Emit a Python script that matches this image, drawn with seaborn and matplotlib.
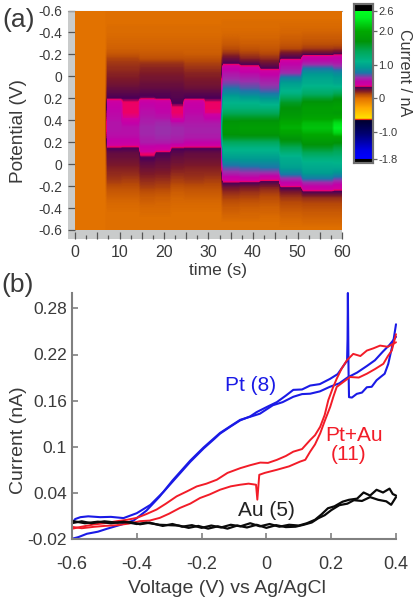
import numpy as np
import pandas as pd
import seaborn as sns
import matplotlib.pyplot as plt
from matplotlib.colors import LinearSegmentedColormap

# panel (a): current map, one list per time block, rows run down the potential axis
block_half_seconds = [14, 7, 8, 7, 7, 6, 9, 8, 8, 9, 9, 10, 14, 4]
block_0 = [0.0] * 44
block_1 = [.01, .01, .01, .02, .02, .03, .04, .05, .08, .13, .16, .18, .2, .22, .24, .27, .3, .33, .46, .5, .52, .53,
           .55, .55, .54, .52, .46, .34, .28, .26, .24, .21, .19, .17, .14, .1, .07, .05, .03, .02, .01, .01, .01, .01]
block_2 = [.01, .01, .01, .02, .02, .03, .04, .05, .08, .13, .16, .18, .2, .22, .24, .27, .3, .33, .365, .365, .365, .39,
           .5, .54, .54, .52, .46, .33, .28, .26, .24, .21, .19, .16, .13, .1, .07, .05, .03, .02, .01, .01, .01, .01]
block_3 = [.01, .01, .01, .02, .02, .03, .04, .05, .07, .1, .17, .2, .22, .24, .26, .28, .31, .34, .5, .52, .54, .56,
           .58, .6, .6, .58, .56, .48, .38, .33, .29, .26, .23, .2, .17, .14, .1, .07, .05, .03, .02, .01, .01, .01]
block_4 = [.01, .01, .01, .02, .02, .03, .04, .05, .07, .1, .17, .2, .22, .24, .26, .28, .31, .33, .47, .5, .52, .55,
           .6, .62, .62, .6, .56, .46, .33, .3, .27, .25, .22, .19, .16, .13, .09, .06, .04, .03, .02, .01, .01, .01]
block_5 = [.01, .01, .01, .02, .02, .03, .04, .05, .07, .1, .17, .2, .22, .24, .26, .28, .3, .31, .33, .365, .365, .39,
           .55, .6, .6, .58, .54, .34, .3, .27, .25, .22, .19, .16, .13, .09, .06, .04, .03, .02, .01, .01, .01, .01]
block_6 = [.01, .01, .01, .02, .02, .03, .04, .05, .06, .1, .14, .17, .2, .22, .24, .26, .3, .33, .47, .5, .52, .54,
           .56, .58, .58, .56, .5, .34, .28, .26, .24, .21, .19, .17, .14, .1, .07, .05, .03, .02, .01, .01, .01, .01]
block_7 = [.01, .01, .01, .02, .02, .03, .04, .05, .06, .1, .14, .17, .2, .22, .24, .26, .3, .33, .365, .365, .38, .5,
           .56, .58, .58, .56, .5, .34, .28, .26, .24, .21, .19, .16, .13, .1, .07, .05, .03, .02, .01, .01, .01, .01]
block_8 = [.01, .01, .02, .02, .03, .05, .07, .11, .17, .26, .33, .48, .55, .6, .66, .75, .85, 1.0, 1.1, 1.2, 1.4, 1.6,
           1.75, 1.8, 1.75, 1.6, 1.35, 1.15, 1.05, .95, .82, .7, .6, .48, .34, .24, .18, .14, .1, .07, .05, .03, .01, .01]
block_9 = [.01, .01, .02, .02, .03, .04, .06, .09, .14, .2, .3, .42, .52, .58, .64, .7, .8, .95, 1.1, 1.2, 1.4, 1.6,
           1.78, 1.85, 1.78, 1.6, 1.35, 1.15, 1.05, .95, .85, .72, .62, .5, .33, .22, .17, .13, .09, .06, .04, .03, .01, .01]
block_10 = [.01, .01, .02, .02, .03, .04, .06, .08, .12, .18, .26, .33, .48, .55, .6, .66, .75, .9, 1.05, 1.2, 1.4, 1.6,
            1.78, 1.85, 1.78, 1.6, 1.35, 1.15, 1.05, .95, .85, .75, .62, .44, .3, .2, .15, .11, .08, .05, .04, .02, .01, .01]
block_11 = [.01, .01, .02, .03, .04, .06, .08, .12, .24, .33, .5, .55, .62, .8, .95, 1.05, 1.15, 1.4, 1.6, 1.7, 1.75, 1.85,
            2.0, 2.05, 1.95, 1.75, 1.6, 1.4, 1.2, 1.05, 1.02, .95, .82, .65, .5, .33, .22, .16, .12, .09, .06, .04, .02, .01]
block_12 = [.01, .01, .02, .03, .05, .07, .1, .15, .27, .48, .58, .75, .9, 1.0, 1.05, 1.15, 1.3, 1.55, 1.75, 1.85, 1.85, 1.95,
            2.1, 2.15, 2.05, 1.9, 1.75, 1.6, 1.4, 1.2, 1.08, 1.02, .95, .8, .6, .47, .3, .18, .13, .1, .07, .05, .03, .01]
block_13 = [.01, .01, .02, .03, .05, .07, .1, .16, .3, .5, .56, .68, .85, .95, 1.0, 1.15, 1.4, 1.65, 1.8, 1.9, 1.8, 2.0,
            2.3, 2.4, 2.25, 1.9, 1.7, 1.5, 1.35, 1.2, 1.1, 1.02, .9, .72, .55, .42, .3, .18, .13, .1, .07, .05, .03, .01]
potential_labels = ["-0.6", "-0.4", "-0.2", "0", "0.2", "0.4", "0.2", "0", "-0.2", "-0.4", "-0.6"]
time_labels = ["0", "", "10", "", "20", "", "30", "", "40", "", "50", "", "60"]
cbar_ticks = [2.6, 2.0, 1.0, 0, -1.0, -1.8]
cbar_labels = ["2.6", "2.0", "1.0", "0", "-1.0", "-1.8"]

# panel (b): cyclic voltammograms
pt_up_v = [-.6, -.59, -.574, -.55, -.513, -.48, -.441, -.4, -.358, -.317, -.276, -.235, -.194, -.16, -.143, -.11, -.081, -.05, -.03, .005, .032,
           .06, .083, .11, .135, .165, .196, .22, .238, .249, .2505, .2515, .2525, .2535, .255, .264, .279, .295, .31, .325, .34, .351, .365, .376, .392, .4]
pt_up_i = [.0007, .006, .0084, .0095, .0084, .0088, .0072, .0136, .0244, .0416, .061, .0804, .0977, .1105, .1171, .1265, .1343, .1395, .1451, .1525, .158,
           .1665, .174, .1745, .1796, .1815, .1882, .1945, .2054, .2119, .24, .3, .25, .2, .1645, .164, .1688, .1705, .1774, .178, .1865, .1903, .195, .2076, .2378, .2593]
pt_down_v = [-.6, -.58, -.554, -.52, -.492, -.45, -.41, -.37, -.33, -.29, -.235, -.194, -.143, -.081, -.05, -.02, .02, .05, .083, .11, .135, .165, .196, .225, .25, .28, .31, .335, .36, .38, .4]
pt_down_i = [-.0197, -.0175, -.0132, -.0105, -.0067, -.0015, .004, .017, .035, .056, .082, .099, .118, .135, .139, .143, .154, .158, .165, .1685, .169, .172, .178, .1825, .19, .1965, .205, .2125, .224, .2325, .243]
ptau_up_v = [-.6, -.57, -.533, -.5, -.461, -.43, -.4, -.37, -.339, -.31, -.277, -.245, -.215, -.185, -.153, -.12, -.081, -.05, -.019, .005, .032,
             .06, .083, .11, .135, .15, .166, .18, .191, .205, .217, .232, .248, .268, .29, .31, .33, .351, .375, .4]
ptau_up_i = [-.0067, -.004, -.0011, .0005, .0032, .005, .0075, .0125, .0183, .026, .0355, .042, .0484, .052, .0571, .066, .0721, .076, .0794, .079, .0829,
             .088, .0936, .097, .1087, .115, .126, .1415, .1605, .1765, .1885, .2015, .2122, .2208, .218, .2251, .228, .2316, .23, .2359]
ptau_down_v = [-.6, -.57, -.533, -.5, -.461, -.425, -.39, -.36, -.329, -.3, -.267, -.235, -.205, -.175, -.143, -.11, -.081, -.055, -.032, -.028, -.022, -.005, .032, .07, .104,
               .12, .135, .15, .166, .18, .197, .207, .217, .235, .258, .285, .31, .335, .361, .375, .387, .4]
ptau_down_i = [-.0042, -.006, -.0042, -.003, -.002, 0, .0032, .004, .0075, .013, .0204, .026, .0333, .038, .0441, .0485, .0506, .052, .0506, .0312, .0635, .066, .07, .0745, .0807,
               .083, .0936, .103, .1174, .1335, .1519, .1655, .1778, .1835, .1907, .19, .195, .201, .2079, .218, .2252, .2464]
au_up_v = [-.6, -.57, -.54, -.5, -.46, -.42, -.39, -.36, -.32, -.29, -.26, -.23, -.2, -.17, -.14, -.11, -.08, -.05, -.02, .01, .04, .07, .1, .125,
           .15, .17, .19, .21, .235, .255, .28, .3, .32, .34, .36, .38, .39, .4]
au_up_i = [.0007, .003, .0005, .003, .0012, .002, -.0008, .0012, -.003, -.0005, -.004, -.002, -.0055, -.0025, -.005, -.0015, -.0035, .0005, -.0035, -.0005, -.004, -.0015, -.0025, .0005,
           .005, .012, .02, .0225, .0285, .031, .0325, .0405, .0365, .044, .0405, .0455, .0385, .0365]
au_down_v = [-.6, -.56, -.52, -.48, -.44, -.4, -.37, -.33, -.3, -.27, -.24, -.21, -.18, -.15, -.12, -.09, -.06, -.03, 0, .03, .06, .09, .115, .14, .16, .18, .2, .225, .25, .27, .295, .32, .345, .37, .385, .4]
au_down_i = [.0035, .0005, .0025, .0005, .0025, -.0005, .0012, -.0015, -.002, -.0025, -.0055, -.003, -.0065, -.0035, -.0065, -.0025, -.005, -.0015, -.0055, -.002, -.0045, -.004, -.0015, .0015, .007, .011, .0175, .024, .026, .0305, .0295, .0345, .031, .029, .0245, .0345]
volt_ticks = [-0.6, -0.4, -0.2, 0, 0.2, 0.4]
volt_labels = ["-0.6", "-0.4", "-0.2", "0", "0.2", "0.4"]
curr_ticks = [-0.02, 0.04, 0.1, 0.16, 0.22, 0.28]
curr_labels = ["-0.02", "0.04", "0.1", "0.16", "0.22", "0.28"]

W, H = 420, 600
TEXT = "#3a3a3a"
SPINE = "#808080"
BLUE = "#1a1ae6"
RED = "#f21c28"

sns.set_style("white")
plt.rcParams["font.family"] = ["Liberation Sans", "DejaVu Sans"]


def px_axes(fig, left, top, right, bottom, **kw):
    return fig.add_axes([left / W, 1 - bottom / H, (right - left) / W, (bottom - top) / H], **kw)


fig = plt.figure(figsize=(W / 100, H / 100), dpi=100)

# gray strip behind the map carries the ticks of panel (a)
strip = px_axes(fig, 68, 10.5, 342, 239, facecolor="#c9cbcb")
strip.set_xlim(-7 / 4.45, 60)
strip.set_ylim(10 + 9 / 21.9, 0)
strip.set_xticks(np.arange(0, 61, 5), time_labels, fontsize=11.5, color=TEXT)
strip.set_xticks(np.arange(2.5, 60, 5), minor=True)
strip.set_yticks(np.arange(11), potential_labels, fontsize=10, color=TEXT)
strip.tick_params(axis="both", which="major", direction="in", length=5, width=0.9, color="#555555", bottom=True, left=True, pad=4)
strip.tick_params(axis="x", which="minor", direction="in", length=3, width=0.9, color="#555555", bottom=True)
strip.set_xlabel("time (s)", fontsize=12.5, color=TEXT)
strip.xaxis.set_label_coords(0.547, -0.105)
strip.set_ylabel("Potential (V)", fontsize=13.7, color=TEXT)
strip.yaxis.set_label_coords(-0.15, 0.473)
for s in strip.spines.values():
    s.set_visible(False)
strip.spines["top"].set_visible(True)
strip.spines["top"].set_color("#a0a0a0")

# colormap stops
VMIN, VMAX = -1.92, 2.81
stops = [(-1.92, "#000000"), (-1.8, "#000000"), (-1.79, "#0000ff"), (-1.55, "#0000e8"), (-1.05, "#000070"),
         (-0.66, "#000030"), (-0.63, "#e01010"), (-0.59, "#ffe000"), (-0.27, "#ffa800"), (0.0, "#e27200"),
         (0.12, "#b84a08"), (0.22, "#7e1a28"), (0.33, "#4c0058"), (0.36, "#f00060"), (0.4, "#d000a0"),
         (0.5, "#c400a8"), (0.62, "#9a30ac"), (0.76, "#1c78a8"), (0.92, "#009a92"), (1.1, "#00b48a"),
         (1.4, "#00a858"), (1.7, "#009408"), (2.0, "#00a800"), (2.4, "#00f020"), (2.59, "#00ff20"),
         (2.6, "#000000"), (2.81, "#000000")]
cmap = LinearSegmentedColormap.from_list(
    "current", [((v - VMIN) / (VMAX - VMIN), c) for v, c in stops], N=1024)

blocks = [block_0, block_1, block_2, block_3, block_4, block_5, block_6, block_7,
          block_8, block_9, block_10, block_11, block_12, block_13]
current_map = pd.DataFrame(np.repeat(np.array(blocks).T, block_half_seconds, axis=1))

ax_map = px_axes(fig, 75, 11, 342, 230)
ax_cb = px_axes(fig, 354, 4, 373, 163)
sns.heatmap(current_map, ax=ax_map, cmap=cmap, vmin=VMIN, vmax=VMAX, cbar_ax=ax_cb,
            xticklabels=False, yticklabels=False, linewidths=0)
# the original map is smooth along the potential axis, so show the same table without cell edges
ax_map.collections[0].set_visible(False)
ax_map.imshow(current_map.values, cmap=cmap, vmin=VMIN, vmax=VMAX, aspect="auto",
              extent=(0, current_map.shape[1], current_map.shape[0], 0),
              interpolation="bilinear", interpolation_stage="data")
ax_cb.set_yticks(cbar_ticks, cbar_labels, fontsize=8, color=TEXT)
ax_cb.tick_params(axis="y", length=3, width=0.9, color="#666666", right=True, pad=1)
for s in ax_cb.spines.values():
    s.set_visible(True)
    s.set_color("#707070")
    s.set_linewidth(1.5)
fig.text(404 / W, 1 - 73 / H, "Current / nA", rotation=270, fontsize=11.6, color=TEXT, ha="center", va="center")

# panel (b)
ax_cv = px_axes(fig, 72, 293, 396, 539)
for v, i, c, w in [(pt_up_v, pt_up_i, BLUE, 1.5), (pt_down_v, pt_down_i, BLUE, 1.5),
                   (ptau_up_v, ptau_up_i, RED, 1.4), (ptau_down_v, ptau_down_i, RED, 1.4),
                   (au_up_v, au_up_i, "#0a0a0a", 1.6), (au_down_v, au_down_i, "#0a0a0a", 1.6)]:
    sns.lineplot(x=v, y=i, ax=ax_cv, color=c, lw=w, sort=False, estimator=None, clip_on=False)
ax_cv.set_xlim(-0.6, 0.4)
ax_cv.set_ylim(-0.02, 0.30)
ax_cv.set_xticks(volt_ticks, volt_labels, fontsize=13, color=TEXT)
ax_cv.set_yticks(curr_ticks, curr_labels, fontsize=12.5, color=TEXT)
ax_cv.tick_params(axis="both", direction="in", length=4, width=1.2, color=SPINE, bottom=True, left=True)
ax_cv.tick_params(axis="x", pad=12)
ax_cv.tick_params(axis="y", pad=3.6)
ax_cv.set_xlabel("Voltage (V) vs Ag/AgCl", fontsize=14, color=TEXT)
ax_cv.xaxis.set_label_coords(0.478, -0.165)
ax_cv.set_ylabel("Current (nA)", fontsize=14, color=TEXT)
ax_cv.yaxis.set_label_coords(-0.139, 0.40)
sns.despine(ax=ax_cv)
for side in ("left", "bottom"):
    ax_cv.spines[side].set_color(SPINE)
    ax_cv.spines[side].set_linewidth(1.5)
ax_cv.text(-0.05, 0.1796, "Pt (8)", color=BLUE, fontsize=15, ha="center", va="center")
ax_cv.text(0.27, 0.115, "Pt+Au", color=RED, fontsize=15, ha="center", va="center")
ax_cv.text(0.255, 0.09, "(11)", color=RED, fontsize=15, ha="center", va="center")
ax_cv.text(0.001, 0.017, "Au (5)", color="#222222", fontsize=15, ha="center", va="center")

fig.text(19 / W, 1 - 20 / H, "(a)", fontsize=19, color=TEXT, ha="center", va="center")
fig.text(18 / W, 1 - 285 / H, "(b)", fontsize=19, color=TEXT, ha="center", va="center")

fig.savefig("out.png", dpi=100)
plt.close(fig)
